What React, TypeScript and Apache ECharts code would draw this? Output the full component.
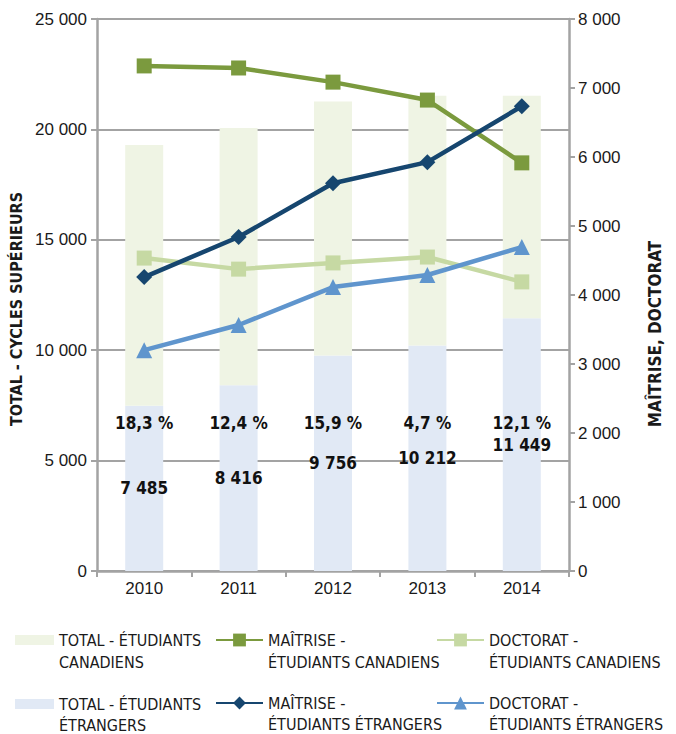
import React, { useEffect, useRef } from 'react';
import * as echarts from 'echarts';

const years = ['2010', '2011', '2012', '2013', '2014'];
const totalForeign = [7485, 8416, 9756, 10212, 11449];
const totalCanadian = [11805, 11644, 11504, 11308, 10071];
const foreignGrowthPct = [18.3, 12.4, 15.9, 4.7, 12.1];
const masterCanadian = [7320, 7290, 7085, 6825, 5915];
const doctorateCanadian = [4535, 4375, 4465, 4550, 4190];
const masterForeign = [4260, 4840, 5620, 5925, 6735];
const doctorateForeign = [3200, 3565, 4115, 4290, 4695];

const NAMES = {
  totCan: 'TOTAL - ÉTUDIANTS CANADIENS',
  totFor: 'TOTAL - ÉTUDIANTS ÉTRANGERS',
  maCan: 'MAÎTRISE - ÉTUDIANTS CANADIENS',
  maFor: 'MAÎTRISE - ÉTUDIANTS ÉTRANGERS',
  doCan: 'DOCTORAT - ÉTUDIANTS CANADIENS',
  doFor: 'DOCTORAT - ÉTUDIANTS ÉTRANGERS',
};
const legendText: Record<string, string> = {
  [NAMES.totCan]: 'TOTAL - ÉTUDIANTS\nCANADIENS',
  [NAMES.totFor]: 'TOTAL - ÉTUDIANTS\nÉTRANGERS',
  [NAMES.maCan]: 'MAÎTRISE -\nÉTUDIANTS CANADIENS',
  [NAMES.maFor]: 'MAÎTRISE -\nÉTUDIANTS ÉTRANGERS',
  [NAMES.doCan]: 'DOCTORAT -\nÉTUDIANTS CANADIENS',
  [NAMES.doFor]: 'DOCTORAT -\nÉTUDIANTS ÉTRANGERS',
};

const NARROW = "'Liberation Sans Narrow', 'Arial Narrow', 'DejaVu Sans Condensed', sans-serif";
const REG = "'Liberation Sans', Arial, sans-serif";
const AXIS_GRAY = '#a3a3a3';

const fmt = (n: number) => String(n).replace(/\B(?=(\d{3})+(?!\d))/g, ' ');

const C = {
  barCan: '#eff4e4',
  barFor: '#e1e9f5',
  maCan: '#7b9a3e',
  doCan: '#c6d9a3',
  maFor: '#16466f',
  doFor: '#5f95cd',
};

// centerY = vertical centre of the icon / first text line
function mkLegend(name: string, left: number, centerY: number, lh: number, isBar: boolean) {
  return {
    data: [name],
    left,
    top: centerY - 1.5 * lh,
    padding: 0,
    orient: 'horizontal',
    selectedMode: false,
    itemWidth: isBar ? 39 : 47,
    itemHeight: isBar ? 10 : 16,
    icon: isBar ? 'rect' : undefined,
    formatter: (n: string) => '\n' + (legendText[n] || n),
    textStyle: {
      fontFamily: NARROW,
      fontSize: 16,
      color: '#1a1a1a',
      lineHeight: lh,
    },
  };
}

export default function App() {
  const ref = useRef<HTMLDivElement>(null);
  useEffect(() => {
    if (!ref.current) return;
    const chart = echarts.init(ref.current, undefined, { renderer: 'svg' });
    const lineSeries = (name: string, data: number[], color: string, symbol: string) => ({
      name,
      type: 'line',
      yAxisIndex: 1,
      data,
      symbol,
      symbolSize: symbol === 'rect' ? 15 : 16,
      lineStyle: { width: 4.5, color },
      itemStyle: { color },
      z: 5,
    });
    chart.setOption({
      animation: false,
      grid: { left: 97, right: 107, top: 19, bottom: 163 },
      legend: [
        mkLegend(NAMES.totCan, 15, 640, 22, true),
        mkLegend(NAMES.maCan, 215, 640, 22, false),
        mkLegend(NAMES.doCan, 436, 640, 22, false),
        mkLegend(NAMES.totFor, 15, 704, 21, true),
        mkLegend(NAMES.maFor, 215, 703, 21, false),
        mkLegend(NAMES.doFor, 436, 703, 21, false),
      ],
      xAxis: {
        type: 'category',
        data: years,
        axisLine: { lineStyle: { color: AXIS_GRAY, width: 2.5 } },
        axisTick: { show: true, length: 6, lineStyle: { color: AXIS_GRAY, width: 2 } },
        axisLabel: { fontFamily: REG, fontSize: 17, color: '#1a1a1a', margin: 9 },
      },
      yAxis: [
        {
          type: 'value',
          min: 0,
          max: 25000,
          interval: 5000,
          name: 'TOTAL - CYCLES SUPÉRIEURS',
          nameLocation: 'middle',
          nameGap: 68,
          nameTextStyle: {
            fontFamily: NARROW,
            fontWeight: 'bold',
            fontSize: 16,
            color: '#1a1a1a',
            padding: [0, 28, 0, 0],
          },
          axisLine: { show: true, lineStyle: { color: AXIS_GRAY, width: 2.5 } },
          axisTick: { show: true, length: 6, lineStyle: { color: AXIS_GRAY, width: 2 } },
          splitLine: { show: true, lineStyle: { color: AXIS_GRAY, width: 2 } },
          axisLabel: { fontFamily: REG, fontSize: 17, color: '#1a1a1a', margin: 10, formatter: (v: number) => fmt(v) },
        },
        {
          type: 'value',
          min: 0,
          max: 8000,
          interval: 1000,
          position: 'right',
          name: 'MAÎTRISE, DOCTORAT',
          nameLocation: 'middle',
          nameGap: 77,
          nameTextStyle: {
            fontFamily: NARROW,
            fontWeight: 'bold',
            fontSize: 17,
            color: '#1a1a1a',
            padding: [0, 78, 0, 0],
          },
          axisLine: { show: true, lineStyle: { color: AXIS_GRAY, width: 2.5 } },
          axisTick: { show: true, length: 6, lineStyle: { color: AXIS_GRAY, width: 2 } },
          splitLine: { show: false },
          axisLabel: { fontFamily: REG, fontSize: 17, color: '#1a1a1a', margin: 9, formatter: (v: number) => fmt(v) },
        },
      ],
      series: [
        {
          name: NAMES.totFor,
          type: 'bar',
          stack: 'total',
          data: totalForeign,
          barWidth: 38,
          barGap: '-100%',
          itemStyle: { color: C.barFor },
          label: {
            show: true,
            position: 'inside',
            formatter: (p: any) => fmt(p.value),
            fontFamily: NARROW,
            fontWeight: 'bold',
            fontSize: 17,
            color: '#111',
          },
        },
        {
          name: NAMES.totCan,
          type: 'bar',
          stack: 'total',
          data: totalCanadian,
          barWidth: 38,
          barGap: '-100%',
          itemStyle: { color: C.barCan },
        },
        {
          name: 'growth',
          type: 'bar',
          data: totalForeign,
          barWidth: 38,
          barGap: '-100%',
          silent: true,
          itemStyle: { color: 'rgba(0,0,0,0)' },
          label: {
            show: true,
            position: 'insideBottom',
            distance: 140,
            formatter: (p: any) => foreignGrowthPct[p.dataIndex].toFixed(1).replace('.', ',') + ' %',
            fontFamily: NARROW,
            fontWeight: 'bold',
            fontSize: 17,
            color: '#111',
          },
          z: 3,
        },
        lineSeries(NAMES.maCan, masterCanadian, C.maCan, 'rect'),
        lineSeries(NAMES.doCan, doctorateCanadian, C.doCan, 'rect'),
        lineSeries(NAMES.maFor, masterForeign, C.maFor, 'diamond'),
        lineSeries(NAMES.doFor, doctorateForeign, C.doFor, 'triangle'),
      ],
    });
    return () => chart.dispose();
  }, []);
  return <div ref={ref} style={{ position: 'absolute', left: 0, top: 0, width: 676, height: 734 }} />;
}
